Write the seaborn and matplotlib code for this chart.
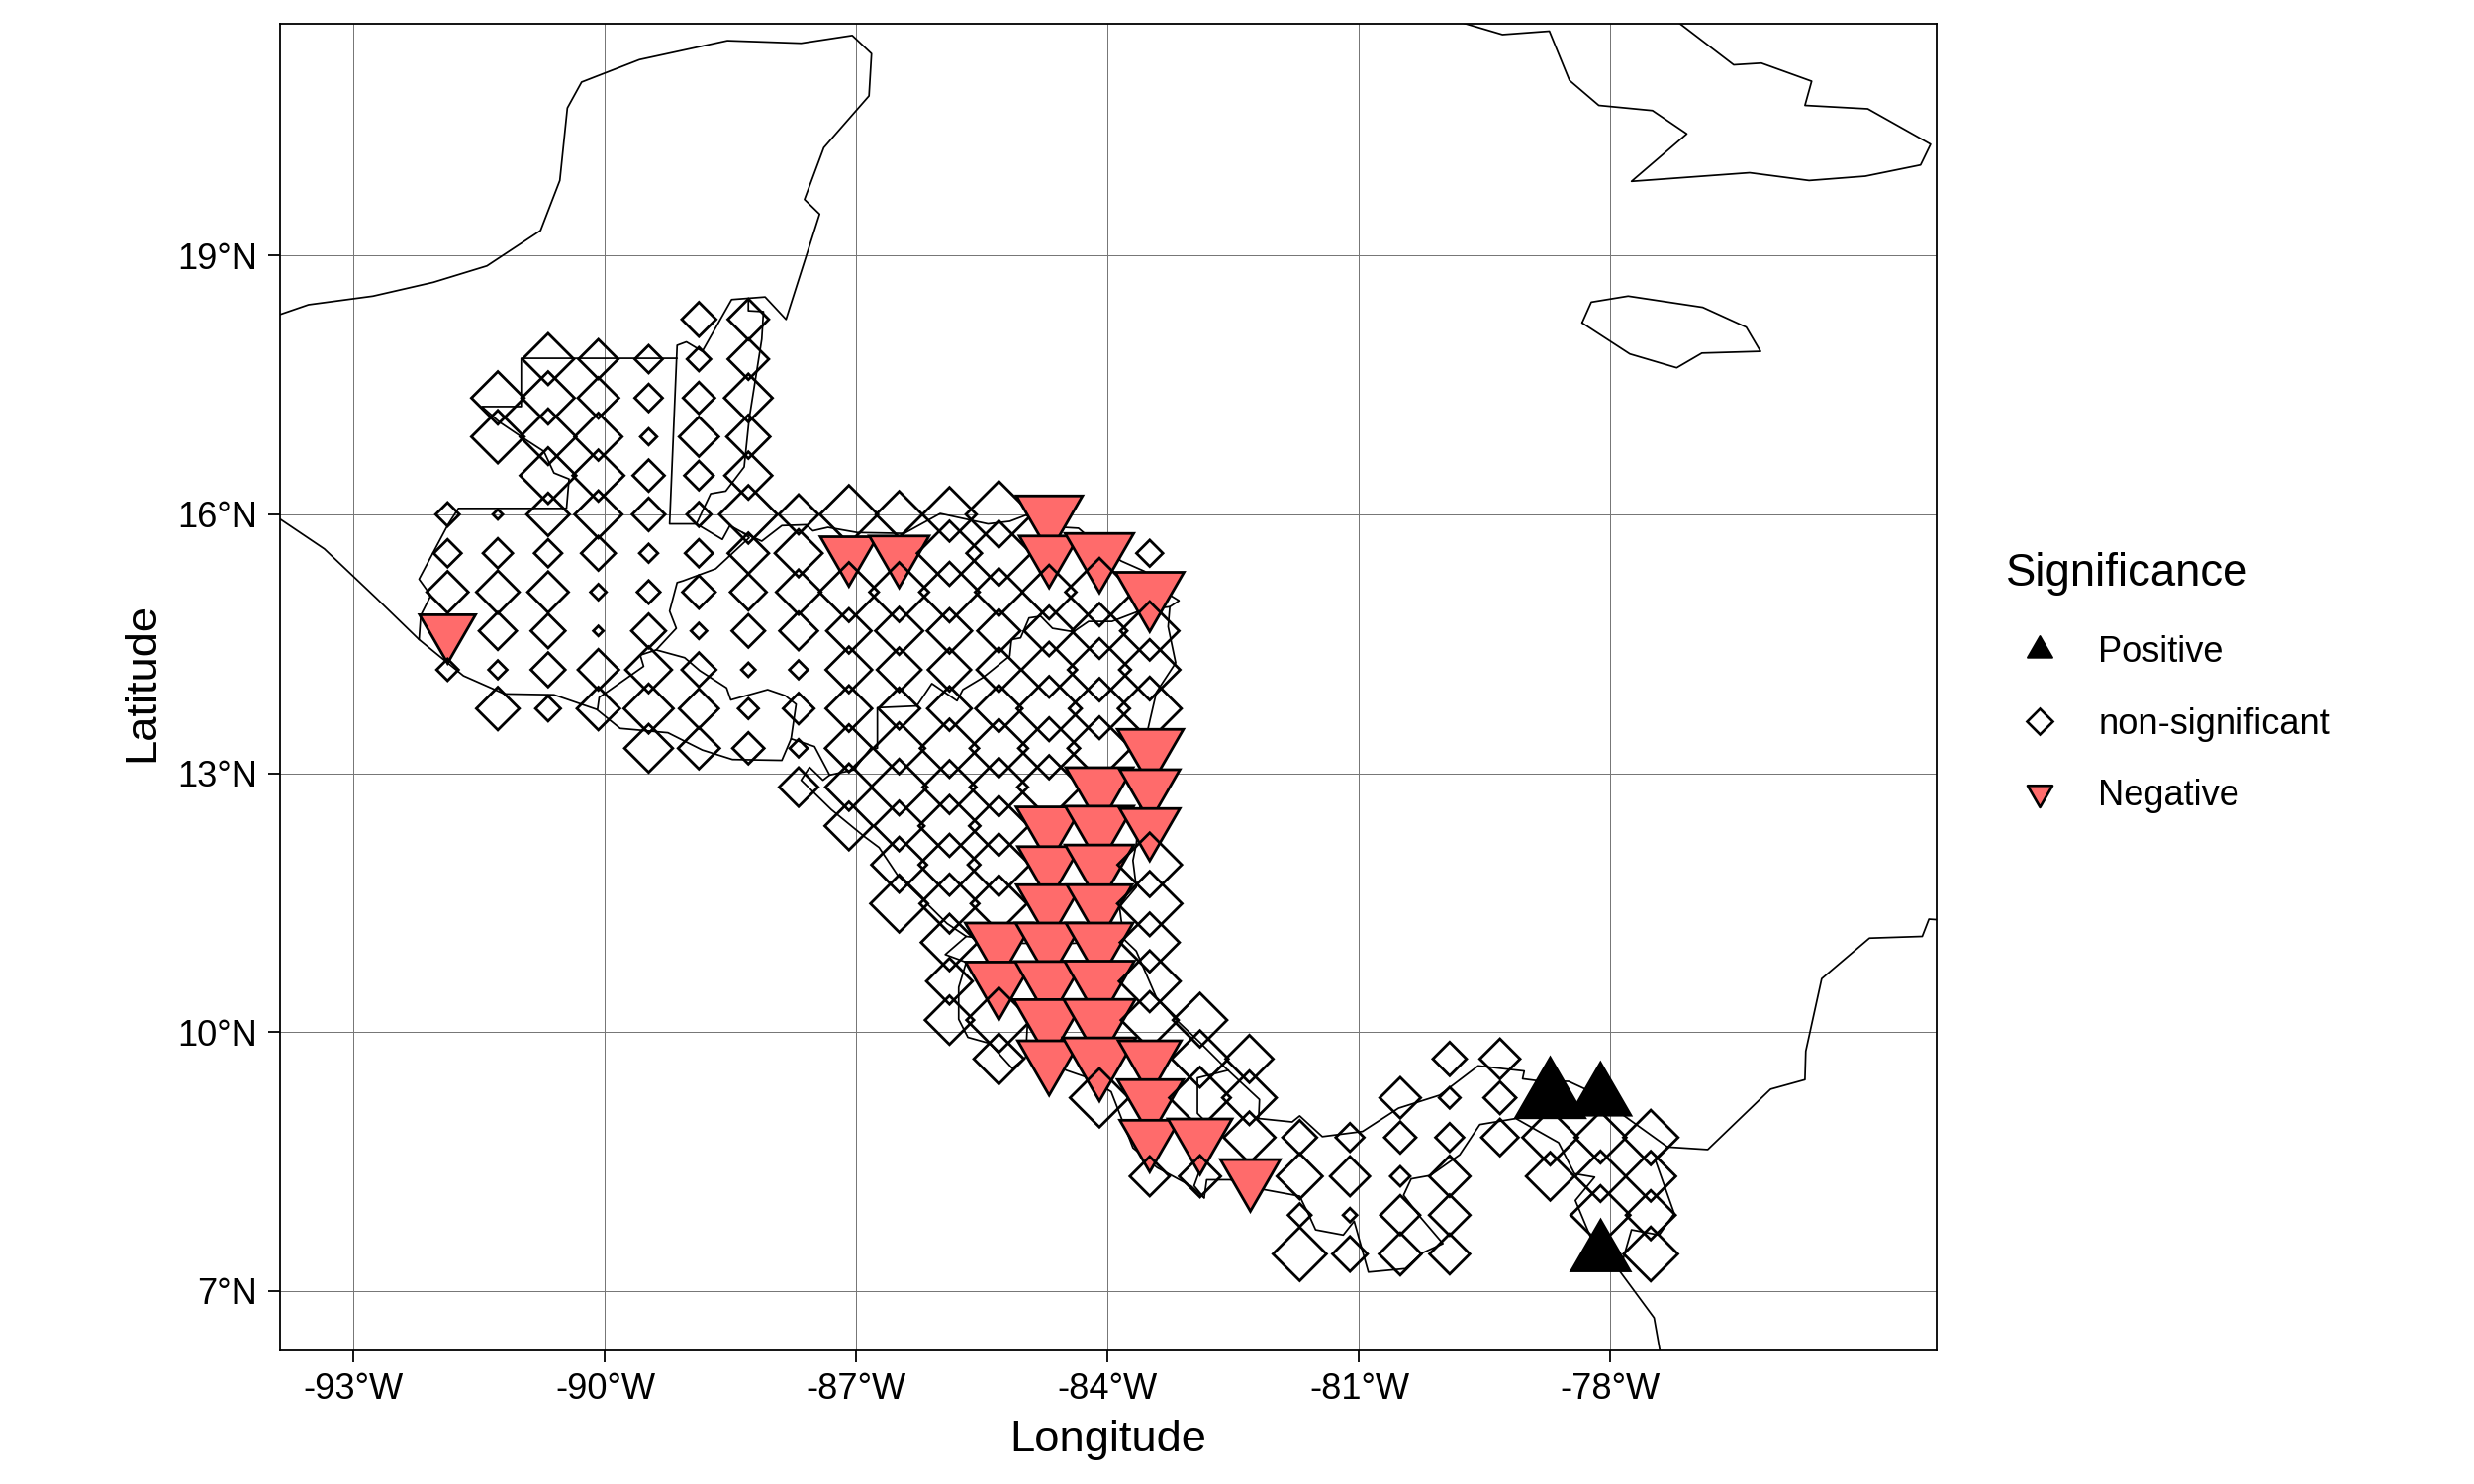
"""
plot.py
-------
Map of significance per grid cell along the Central American isthmus.
"""

import matplotlib
matplotlib.use("Agg")
import matplotlib.pyplot as plt
import pandas as pd
import seaborn as sns
from matplotlib.lines import Line2D
from matplotlib.markers import MarkerStyle
from matplotlib.path import Path


# grid cells
lons = [-91.88, -91.28, -90.68, -90.08, -89.48, -88.88, -88.29, -87.69, -87.09,
        -86.49, -85.89, -85.30, -84.70, -84.10, -83.50, -82.90, -82.31, -81.71,
        -81.11, -80.51, -79.92, -79.32, -78.72, -78.12, -77.52]
lats = [18.26, 17.80, 17.35, 16.90, 16.45, 16.00, 15.55, 15.10, 14.65, 14.20,
        13.75, 13.29, 12.84, 12.39, 11.94, 11.49, 11.04, 10.59, 10.14, 9.69,
        9.24, 8.78, 8.33, 7.88, 7.43]
first_col = [5, 2, 1, 1, 2, 0, 0, 0, 0, 0, 1, 4, 7, 8, 9, 9, 10, 10, 10, 11,
             13, 14, 14, 17, 17]

# effect magnitude per row, west to east, starting at first_col
row_01 = [52, 62]
row_02 = [78, 60, 42, 36, 62]
row_03 = [80, 80, 62, 42, 48, 73]
row_04 = [80, 85, 72, 25, 60, 66]
row_05 = [85, 78, 48, 44, 72]
row_06 = [36, 15, 65, 72, 50, 37, 88, 60, 88, 70, 82, 100, 105]
row_07 = [42, 45, 42, 52, 28, 42, 62, 72, 91, 95, 98, 98, 95, 109, 40]
row_08 = [63, 65, 62, 24, 35, 50, 55, 68, 90, 90, 91, 72, 82, 103, 109]
row_09 = [89, 57, 52, 15, 52, 24, 50, 58, 68, 72, 68, 65, 76, 84, 89]
row_10 = [33, 28, 52, 62, 70, 52, 21, 28, 70, 67, 65, 67, 84, 95, 92]
row_11 = [65, 38, 65, 75, 60, 31, 47, 70, 63, 67, 71, 98, 92, 96]
row_12 = [73, 63, 48, 27, 72, 78, 89, 88, 93, 96, 105]
row_13 = [59, 71, 85, 81, 88, 96, 107, 96]
row_14 = [73, 76, 93, 90, 105, 109, 96]
row_15 = [84, 93, 94, 100, 109, 97]
row_16 = [87, 90, 85, 104, 104, 98]
row_17 = [86, 107, 107, 107, 90]
row_18 = [70, 106, 109, 111, 93]
row_19 = [74, 98, 113, 114, 87, 82]
row_20 = [76, 100, 116, 100, 86, 72, None, None, None, 51, 61]
row_21 = [89, 105, 93, 82, None, None, 62, 32, 49, 110, 96]
row_22 = [95, 102, 78, 52, 43, 48, 43, 56, 84, 78, 83]
row_23 = [60, 63, 95, 69, 60, 30, 62, None, 73, 77, 76]
row_24 = [35, 21, 60, 62, None, None, 90, 75]
row_25 = [81, 53, 64, 61, None, None, 93, 82]

rows = [row_01, row_02, row_03, row_04, row_05, row_06, row_07, row_08, row_09,
        row_10, row_11, row_12, row_13, row_14, row_15, row_16, row_17, row_18,
        row_19, row_20, row_21, row_22, row_23, row_24, row_25]

# significant cells: latitude -> column index
negative_cells = {16.00: [12], 15.55: [8, 9, 12, 13], 15.10: [14], 14.65: [0],
                  13.29: [14], 12.84: [13, 14], 12.39: [12, 13, 14],
                  11.94: [12, 13], 11.49: [12, 13], 11.04: [11, 12, 13],
                  10.59: [11, 12, 13], 10.14: [12, 13], 9.69: [12, 13, 14],
                  9.24: [14], 8.78: [14, 15], 8.33: [16]}
positive_cells = {9.24: [22, 23], 7.43: [23]}

# outlines (lon, lat)
north_coast = [(-93.90, 18.31), (-93.54, 18.43), (-92.77, 18.53), (-92.05, 18.69),
               (-91.41, 18.88), (-90.77, 19.29), (-90.54, 19.87), (-90.45, 20.71),
               (-90.28, 21.01), (-89.59, 21.27), (-88.54, 21.49), (-87.66, 21.46),
               (-87.05, 21.55), (-86.82, 21.34), (-86.85, 20.85), (-87.39, 20.25),
               (-87.62, 19.65), (-87.44, 19.48), (-87.84, 18.26), (-88.09, 18.52),
               (-88.49, 18.49), (-88.84, 17.89), (-89.03, 18.00), (-89.14, 17.96),
               (-89.23, 15.89), (-88.91, 15.89), (-88.60, 15.71), (-88.51, 15.87),
               (-88.36, 15.79), (-88.13, 15.69), (-87.89, 15.87), (-87.60, 15.88),
               (-87.52, 15.81), (-87.34, 15.85), (-86.99, 15.79), (-86.43, 15.78),
               (-86.00, 16.01), (-85.43, 15.89), (-85.17, 15.92), (-84.98, 15.99),
               (-84.52, 15.85), (-84.35, 15.84), (-84.29, 15.79), (-83.84, 15.46),
               (-83.56, 15.34), (-83.25, 15.06), (-83.15, 15.00), (-83.26, 14.93),
               (-83.28, 14.70), (-83.19, 14.28), (-83.42, 13.94), (-83.52, 13.52),
               (-83.66, 12.18), (-83.70, 11.99), (-83.66, 11.68), (-83.86, 11.45),
               (-83.84, 11.30), (-83.80, 11.07), (-83.66, 10.94), (-83.42, 10.40),
               (-83.19, 10.15), (-82.91, 9.89), (-82.60, 9.59), (-82.19, 9.22),
               (-82.20, 9.00), (-81.80, 8.96), (-81.71, 9.03), (-81.44, 8.79),
               (-80.96, 8.85), (-80.53, 9.12), (-80.04, 9.27), (-79.58, 9.61),
               (-79.03, 9.55), (-79.05, 9.46), (-78.89, 9.44), (-78.50, 9.43),
               (-78.30, 9.34), (-77.85, 9.04), (-77.32, 8.67), (-76.84, 8.64),
               (-76.09, 9.34), (-75.68, 9.45), (-75.67, 9.78), (-75.48, 10.62),
               (-74.91, 11.09), (-74.28, 11.11), (-74.20, 11.31), (-74.05, 11.30)]
south_coast = [(-93.90, 15.96), (-93.35, 15.60), (-92.73, 15.03), (-92.22, 14.55),
               (-91.69, 14.13), (-91.20, 13.92), (-90.61, 13.91), (-90.10, 13.74),
               (-89.82, 13.52), (-89.25, 13.47), (-88.84, 13.27), (-88.48, 13.16),
               (-87.89, 13.15), (-87.78, 13.40), (-87.50, 13.31), (-87.32, 12.98),
               (-87.40, 12.92), (-87.56, 13.07), (-87.66, 12.92), (-87.30, 12.58),
               (-86.91, 12.27), (-86.73, 12.14), (-86.51, 11.82), (-86.18, 11.51),
               (-85.92, 11.26), (-85.69, 11.11), (-85.94, 10.90), (-85.69, 10.81),
               (-85.78, 10.52), (-85.78, 10.15), (-85.67, 9.94), (-85.41, 9.87),
               (-85.14, 9.58), (-84.98, 9.71), (-84.96, 10.08), (-84.50, 9.56),
               (-84.23, 9.47), (-83.96, 9.31), (-83.70, 8.66), (-83.41, 8.43),
               (-83.01, 8.22), (-82.85, 8.08), (-82.82, 8.29), (-82.54, 8.29),
               (-82.16, 8.18), (-81.71, 8.10), (-81.59, 7.86), (-81.52, 7.71),
               (-81.19, 7.65), (-81.06, 7.81), (-80.89, 7.22), (-80.45, 7.26),
               (-80.25, 7.44), (-80.00, 7.55), (-80.29, 7.88), (-80.47, 8.11),
               (-80.38, 8.30), (-80.15, 8.34), (-79.80, 8.58), (-79.56, 8.93),
               (-79.13, 9.00), (-78.62, 8.72), (-78.43, 8.36), (-78.19, 8.32),
               (-78.42, 8.05), (-78.24, 7.63), (-77.89, 7.23), (-77.48, 6.69),
               (-77.40, 6.25)]
mex_gtm_border = [(-89.14, 17.81), (-91.00, 17.81), (-91.00, 17.25), (-91.47, 17.25),
                  (-91.26, 17.07), (-91.00, 16.90), (-90.73, 16.73), (-90.61, 16.48),
                  (-90.43, 16.41), (-90.46, 16.07), (-91.75, 16.07), (-91.87, 15.89),
                  (-92.22, 15.25), (-92.08, 15.06), (-92.20, 14.83), (-92.22, 14.55)]
belize_border = [(-88.29, 18.48), (-88.29, 18.36), (-88.11, 18.35), (-88.13, 18.03),
                 (-88.28, 17.11), (-88.34, 16.55), (-88.56, 16.27), (-88.74, 16.24),
                 (-88.91, 15.89)]
gtm_hnd_border = [(-88.36, 15.79), (-88.28, 15.73), (-88.68, 15.37), (-89.07, 15.23),
                  (-89.14, 15.21), (-89.23, 14.88), (-89.15, 14.68), (-89.39, 14.43),
                  (-89.58, 14.37), (-89.54, 14.24), (-89.98, 13.94), (-90.07, 13.88),
                  (-90.09, 13.74)]
slv_hnd_border = [(-89.39, 14.43), (-89.05, 14.34), (-88.87, 14.19), (-88.55, 13.99),
                  (-88.50, 13.85), (-88.06, 13.97), (-87.85, 13.90), (-87.72, 13.80),
                  (-87.78, 13.40)]
hnd_nic_border = [(-87.32, 12.98), (-87.03, 13.04), (-86.83, 13.29), (-86.75, 13.29),
                  (-86.75, 13.76), (-86.28, 13.78), (-86.10, 14.04), (-85.80, 13.84),
                  (-85.73, 13.97), (-85.49, 14.11), (-85.17, 14.36), (-85.15, 14.55),
                  (-85.04, 14.57), (-84.94, 14.80), (-84.80, 14.82), (-84.66, 14.68),
                  (-84.41, 14.64), (-84.23, 14.76), (-83.95, 14.76), (-83.60, 14.89),
                  (-83.26, 14.93)]
nic_cri_border = [(-85.69, 11.11), (-85.02, 11.03), (-84.41, 11.03), (-83.80, 11.07)]
cri_pan_border = [(-82.56, 9.56), (-82.93, 9.47), (-82.93, 9.06), (-82.87, 9.00),
                  (-82.91, 8.38), (-82.97, 8.22), (-82.85, 8.08)]
pan_col_border = [(-77.32, 8.67), (-77.47, 8.53), (-77.24, 7.90), (-77.42, 7.65),
                  (-77.75, 7.71), (-77.83, 7.44), (-77.89, 7.23)]
cuba = [(-79.78, 21.70), (-79.29, 21.56), (-78.73, 21.60), (-78.49, 21.03),
        (-78.14, 20.74), (-77.50, 20.68), (-77.09, 20.41), (-77.75, 19.86),
        (-76.34, 19.96), (-75.63, 19.87), (-74.96, 19.92), (-74.30, 20.05),
        (-74.18, 20.29), (-74.93, 20.70), (-75.68, 20.74), (-75.60, 21.02),
        (-76.20, 21.23), (-76.53, 21.21), (-77.19, 21.70)]
jamaica = [(-78.34, 18.22), (-78.23, 18.46), (-77.79, 18.53), (-76.90, 18.40),
           (-76.38, 18.17), (-76.21, 17.89), (-76.91, 17.87), (-77.21, 17.70),
           (-77.77, 17.86), (-78.34, 18.22)]

outlines = [north_coast, south_coast, mex_gtm_border, belize_border, gtm_hnd_border,
            slv_hnd_border, hnd_nic_border, nic_cri_border, cri_pan_border,
            pan_col_border, cuba, jamaica]

x_ticks = [-93, -90, -87, -84, -81, -78]
x_tick_labels = ["-93°W", "-90°W", "-87°W", "-84°W", "-81°W", "-78°W"]
y_ticks = [7, 10, 13, 16, 19]
y_tick_labels = ["7°N", "10°N", "13°N", "16°N", "19°N"]
legend_labels = ["Positive", "non-significant", "Negative"]

NEGATIVE_RED = "#FF6B6B"
DPI = 200


def build_points() -> pd.DataFrame:
    """Long table of cells, in drawing order: north to south, west to east."""
    records = []
    for lat, start, values in zip(lats, first_col, rows):
        for offset, value in enumerate(values):
            if value is None:
                continue
            col = start + offset
            sig = "non-significant"
            if col in negative_cells.get(lat, []):
                sig = "Negative"
            elif col in positive_cells.get(lat, []):
                sig = "Positive"
            records.append({"lon": lons[col], "lat": lat, "effect": value, "sig": sig})
    df = pd.DataFrame(records)
    df["run"] = (df["sig"] != df["sig"].shift()).cumsum()
    return df


def triangle_path(direction: int) -> Path:
    """Triangle centred on its centroid, like R's pch 24/25."""
    return Path([(0, direction), (-0.866, -0.5 * direction),
                 (0.866, -0.5 * direction), (0, direction)], closed=True)


def effect_to_points(effect):
    # effect values read at 3x zoom, 1 px = 0.36 pt at 200 dpi
    return effect / 3 * 72 / DPI


sns.set_theme(style="ticks")
plt.rcParams["font.family"] = ["Liberation Sans", "DejaVu Sans"]
plt.rcParams["text.color"] = "black"
plt.rcParams["axes.labelcolor"] = "black"

fig = plt.figure(figsize=(12.5, 7.5), dpi=DPI)
ax = fig.add_axes([282.5 / 2500, 1 - 1365 / 1500, 1674 / 2500, 1341 / 1500])

for outline in outlines:
    outline_lon = [p[0] for p in outline]
    outline_lat = [p[1] for p in outline]
    sns.lineplot(x=outline_lon, y=outline_lat, sort=False, estimator=None, color="black",
                 linewidth=0.62, zorder=1.5, ax=ax)

up_marker = MarkerStyle(triangle_path(1), joinstyle="miter")
down_marker = MarkerStyle(triangle_path(-1), joinstyle="miter")

points = build_points()
for _, run in points.groupby("run"):
    size_pt = effect_to_points(run["effect"].to_numpy(dtype=float))
    sig = run["sig"].iloc[0]
    if sig == "non-significant":
        sns.scatterplot(data=run, x="lon", y="lat", s=2 * size_pt ** 2, marker="D",
                        facecolor="none", edgecolor="black", linewidth=1.0,
                        joinstyle="miter", zorder=2, legend=False, ax=ax)
    elif sig == "Negative":
        sns.scatterplot(data=run, x="lon", y="lat", s=(2 * 1.1 * size_pt) ** 2,
                        marker=down_marker, facecolor=NEGATIVE_RED, edgecolor="black",
                        linewidth=1.0, joinstyle="miter", zorder=2, legend=False, ax=ax)
    else:
        sns.scatterplot(data=run, x="lon", y="lat", s=(2 * 1.1 * size_pt) ** 2,
                        marker=up_marker, facecolor="black", edgecolor="black",
                        linewidth=1.0, joinstyle="miter", zorder=2, legend=False, ax=ax)

ax.set_xlim(-93.885, -74.114)
ax.set_ylim(6.312, 21.686)
ax.set_xticks(x_ticks, x_tick_labels)
ax.set_yticks(y_ticks, y_tick_labels)
ax.grid(True, color="#777777", linewidth=0.36)
ax.set_axisbelow(True)
ax.tick_params(axis="both", length=4.4, width=0.65, color="black", labelcolor="black",
               labelsize=13.05, pad=3.6)
for spine in ax.spines.values():
    spine.set_linewidth(0.65)
    spine.set_color("black")

ax.set_xlabel("Longitude", fontsize=16.35, va="center")
ax.set_ylabel("Latitude", fontsize=16.35, va="center")
ax.xaxis.set_label_coords(0.5, -(1456 - 1365) / 1341)
ax.yaxis.set_label_coords(-(282.5 - 144) / 1674, 0.5036)

handles = [
    Line2D([], [], linestyle="none", marker=up_marker, markersize=10.4,
           markerfacecolor="black", markeredgecolor="black", markeredgewidth=0.7),
    Line2D([], [], linestyle="none", marker="D", markersize=6.4,
           markerfacecolor="none", markeredgecolor="black", markeredgewidth=0.95),
    Line2D([], [], linestyle="none", marker=down_marker, markersize=10.4,
           markerfacecolor=NEGATIVE_RED, markeredgecolor="black", markeredgewidth=0.95),
]
legend = ax.legend(handles, legend_labels, title="Significance", title_fontsize=16.4,
                   fontsize=13.05, loc="upper left",
                   bbox_to_anchor=(2027 / 2500, 1 - 558.4 / 1500),
                   bbox_transform=fig.transFigure, frameon=False, alignment="left",
                   borderpad=0, borderaxespad=0, handlelength=1.9, handletextpad=0.67,
                   labelspacing=1.026)
legend._legend_box.sep += 1.0

fig.savefig("out.png", dpi=DPI)
plt.close(fig)
print("saved out.png")
